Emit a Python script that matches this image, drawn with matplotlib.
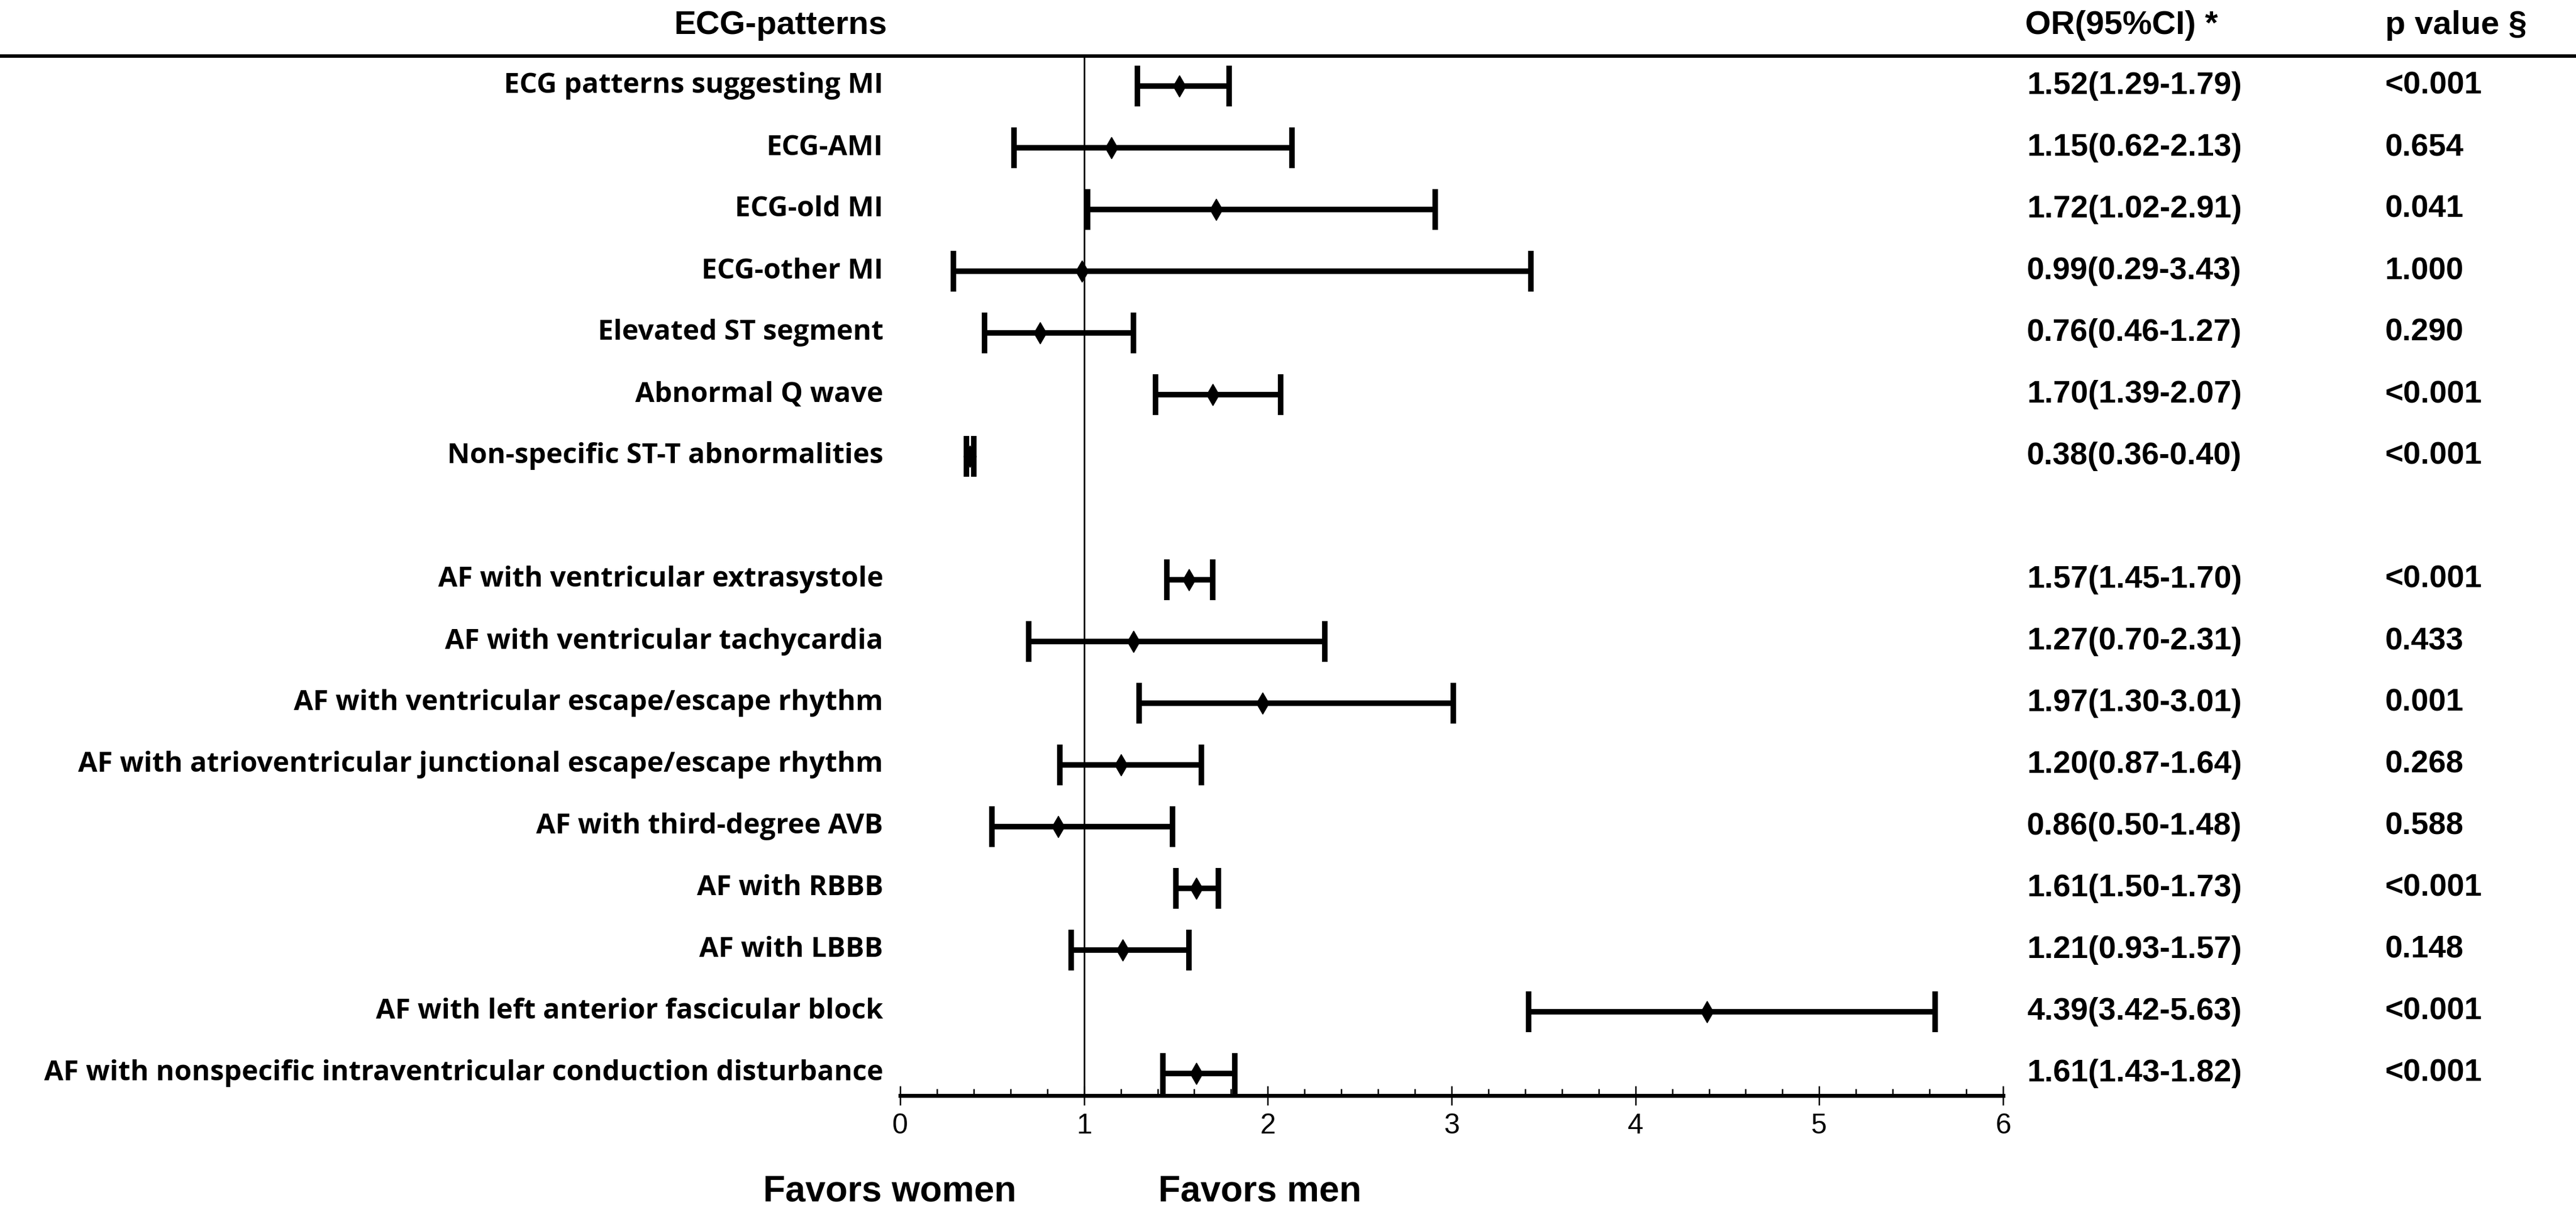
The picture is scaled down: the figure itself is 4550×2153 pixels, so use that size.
import matplotlib
matplotlib.use("Agg")
import matplotlib.pyplot as plt
import matplotlib.transforms as mtrans
from matplotlib.ticker import MultipleLocator

labels = [
    "ECG patterns suggesting MI",
    "ECG-AMI",
    "ECG-old MI",
    "ECG-other MI",
    "Elevated ST segment",
    "Abnormal Q wave",
    "Non-specific ST-T abnormalities",
    "AF with ventricular extrasystole",
    "AF with ventricular tachycardia",
    "AF with ventricular escape/escape rhythm",
    "AF with atrioventricular junctional escape/escape rhythm",
    "AF with third-degree AVB",
    "AF with RBBB",
    "AF with LBBB",
    "AF with left anterior fascicular block",
    "AF with nonspecific intraventricular conduction disturbance",
]
or_vals = [1.52, 1.15, 1.72, 0.99, 0.76, 1.70, 0.38, 1.57, 1.27, 1.97, 1.20, 0.86, 1.61, 1.21, 4.39, 1.61]
ci_low = [1.29, 0.62, 1.02, 0.29, 0.46, 1.39, 0.36, 1.45, 0.70, 1.30, 0.87, 0.50, 1.50, 0.93, 3.42, 1.43]
ci_high = [1.79, 2.13, 2.91, 3.43, 1.27, 2.07, 0.40, 1.70, 2.31, 3.01, 1.64, 1.48, 1.73, 1.57, 5.63, 1.82]
p_text = ["<0.001", "0.654", "0.041", "1.000", "0.290", "<0.001", "<0.001",
          "<0.001", "0.433", "0.001", "0.268", "0.588", "<0.001", "0.148", "<0.001", "<0.001"]
# row slots (slot 7 is the blank separator between the two groups)
slots = [0, 1, 2, 3, 4, 5, 6, 8, 9, 10, 11, 12, 13, 14, 15, 16]
xticks = [0, 1, 2, 3, 4, 5, 6]

W, H = 4550, 2153
DPI = 100
fig = plt.figure(figsize=(W / DPI, H / DPI), dpi=DPI)
fig.patch.set_facecolor("white")

x0px, x6px = 1590, 3538
top_px, bot_px = 99, 1935
ax = fig.add_axes([x0px / W, 1 - bot_px / H, (x6px - x0px) / W, (bot_px - top_px) / H])

row0_px, rowlast_px = 152, 1896
step = (rowlast_px - row0_px) / 16.0
ax.set_ylim((bot_px - row0_px) / step, (top_px - row0_px) / step)
ax.set_xlim(0, 6)

xerr = [[o - l for o, l in zip(or_vals, ci_low)], [h - o for o, h in zip(or_vals, ci_high)]]
ax.errorbar(or_vals, slots, xerr=xerr, fmt="d", color="black", ms=19,
            elinewidth=7, capsize=26, capthick=7, zorder=3)
ax.axvline(1, color="black", lw=2.0, zorder=2)

for s in ["top", "right", "left"]:
    ax.spines[s].set_visible(False)
ax.spines["bottom"].set_linewidth(5)
ax.set_yticks([])
ax.xaxis.set_major_locator(MultipleLocator(1))
ax.xaxis.set_minor_locator(MultipleLocator(0.2))
ax.tick_params(axis="x", which="major", direction="inout", length=24, width=1.8, pad=10,
               labelsize=36)
ax.tick_params(axis="x", which="minor", direction="in", length=9, width=1.8)
ax.set_xticks(xticks)
ax.set_xticklabels([str(t) for t in xticks], family="Liberation Sans")
ax.patch.set_alpha(0)

tr_lab = mtrans.blended_transform_factory(fig.transFigure, ax.transData)
lab_font = dict(family="Open Sans", weight="bold", fontsize=35.5)
for s, lab in zip(slots, labels):
    ax.text(1560 / W, s, lab, transform=tr_lab, ha="right", va="center", **lab_font)

num_font = dict(family="Liberation Sans", weight="bold", fontsize=40)
for s, o, l, h, p in zip(slots, or_vals, ci_low, ci_high, p_text):
    ax.text(3580 / W, s, f"{o:.2f}({l:.2f}-{h:.2f})", transform=tr_lab, ha="left", va="center", **num_font)
    ax.text(4213 / W, s, p, transform=tr_lab, ha="left", va="center", **num_font)

# header
hdr_font = dict(family="Liberation Sans", weight="bold", fontsize=42)
fig.text(1567 / W, 1 - 60 / H, "ECG-patterns", ha="right", va="baseline", **hdr_font)
fig.text(3577 / W, 1 - 60 / H, "OR(95%CI) *", ha="left", va="baseline", **hdr_font)
fig.text(4213 / W, 1 - 60 / H, "p value §", ha="left", va="baseline", **hdr_font)
fig.add_artist(plt.Line2D([0, 1], [1 - 99 / H, 1 - 99 / H], transform=fig.transFigure,
                          color="black", lw=4.5))

fig.text(1348 / W, 1 - 2105 / H, "Favors women", ha="left", va="center",
         family="Liberation Sans", weight="bold", fontsize=46)
fig.text(2046 / W, 1 - 2105 / H, "Favors men", ha="left", va="center",
         family="Liberation Sans", weight="bold", fontsize=46)

fig.savefig("out.png", dpi=DPI, facecolor="white")
